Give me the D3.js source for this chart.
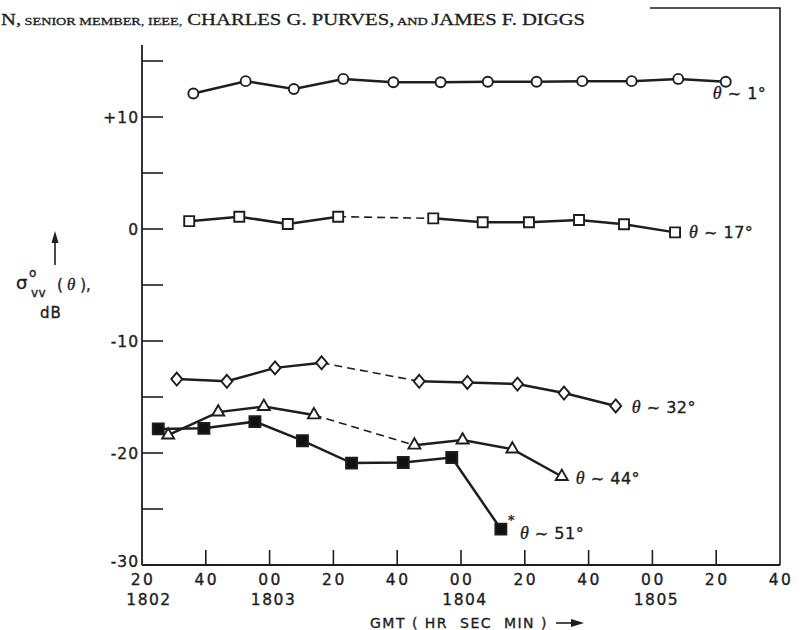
<!DOCTYPE html>
<html>
<head>
<meta charset="utf-8">
<script src="https://cdn.jsdelivr.net/npm/d3@7"></script>
<style>
  body { margin: 0; background: #fff; }
  svg { display: block; }
</style>
</head>
<body>
<svg id="chart" width="800" height="630"></svg>
<script>
// time = seconds after 18:02:00 GMT, values = sigma_vv in dB
const t01 = [36.1, 52.5, 67.6, 83.1, 98.8, 113.6, 128.4, 143.7, 158.0, 173.5, 188.1, 203.0];
const db01 = [12.1, 13.2, 12.5, 13.4, 13.1, 13.1, 13.15, 13.15, 13.2, 13.2, 13.4, 13.15];

const t17 = [34.8, 50.5, 65.7, 81.5, 111.3, 126.8, 141.3, 157.0, 171.1, 187.1];
const db17 = [0.7, 1.1, 0.45, 1.1, 0.95, 0.6, 0.6, 0.8, 0.42, -0.3];

const t32 = [30.9, 46.6, 61.7, 76.3, 106.9, 122.0, 137.7, 152.3, 168.5];
const db32 = [-13.4, -13.6, -12.4, -11.95, -13.6, -13.7, -13.85, -14.65, -15.8];

const t44 = [28.2, 43.9, 58.2, 73.9, 105.4, 120.5, 136.1, 151.6];
const db44 = [-18.4, -16.35, -15.85, -16.6, -19.3, -18.85, -19.65, -22.1];

const t51 = [25.1, 39.4, 55.4, 70.3, 85.7, 101.9, 117.1, 132.5];
const db51 = [-17.85, -17.8, -17.2, -18.9, -20.9, -20.85, -20.4, -26.8];

const xTicks = [20, 40, 60, 80, 100, 120, 140, 160, 180, 200, 220];
const xTickLabels = ["20", "40", "00", "20", "40", "00", "20", "40", "00", "20", "40"];
const minuteAt = [20, 60, 120, 180];
const minuteLabels = ["1802", "1803", "1804", "1805"];
const yTicks = [-30, -25, -20, -15, -10, -5, 0, 5, 10, 15];
const yLabelTicks = [10, 0, -10, -20, -30];
const yTickLabels = ["+10", "0", "-10", "-20", "-30"];

const ink = "#1e1e1e";
const sans = "'DejaVu Sans', sans-serif";
const serif = "'Liberation Serif', serif";

const svg = d3.select("#chart");

const x = d3.scaleLinear().domain([20, 220]).range([142, 780]);
const y = d3.scaleLinear().domain([-30, 15]).range([565, 61]);

// header line of the paper page
const title = svg.append("text")
  .attr("x", 1).attr("y", 25)
  .attr("font-family", serif)
  .attr("fill", ink).attr("stroke", ink).attr("stroke-width", 0.3)
  .attr("textLength", 584)
  .attr("lengthAdjust", "spacingAndGlyphs");
[["N,", 16], [" SENIOR MEMBER, IEEE,", 11], [" CHARLES G. PURVES,", 16], [" AND ", 11], ["JAMES F. DIGGS", 16]]
  .forEach(([s, fs]) => title.append("tspan").attr("font-size", fs).text(s));

// box corner at top right
svg.append("path")
  .attr("d", `M650,8H${x(220)}V${y(-30)}`)
  .attr("fill", "none").attr("stroke", ink).attr("stroke-width", 1.6);

// axes lines
svg.append("line")
  .attr("x1", x(20)).attr("x2", x(220)).attr("y1", y(-30)).attr("y2", y(-30))
  .attr("stroke", ink).attr("stroke-width", 1.8);
svg.append("line")
  .attr("x1", x(20)).attr("x2", x(20)).attr("y1", y(-30)).attr("y2", 45)
  .attr("stroke", ink).attr("stroke-width", 1.8);

const lbl = sel => sel.attr("font-family", sans).attr("fill", ink)
  .attr("stroke", ink).attr("stroke-width", 0.35);

// y ticks point inwards
svg.selectAll(".ytick").data(yTicks.filter(d => d > -30)).enter().append("line")
  .attr("x1", x(20)).attr("x2", x(20) + 21)
  .attr("y1", d => y(d)).attr("y2", d => y(d))
  .attr("stroke", ink).attr("stroke-width", 1.6);
svg.selectAll(".ylab").data(yLabelTicks).enter().append("text")
  .attr("x", x(20) - 3).attr("y", d => y(d) + (d === -30 ? 2 : 6))
  .attr("text-anchor", "end")
  .attr("font-size", 15.5).attr("letter-spacing", 1)
  .call(lbl)
  .text((d, i) => yTickLabels[i]);

// x ticks point up
svg.selectAll(".xtick").data(xTicks.slice(1, -1)).enter().append("line")
  .attr("x1", d => x(d)).attr("x2", d => x(d))
  .attr("y1", y(-30)).attr("y2", y(-30) - 15)
  .attr("stroke", ink).attr("stroke-width", 1.6);
svg.selectAll(".xlab").data(xTicks).enter().append("text")
  .attr("x", d => x(d) + 1).attr("y", 585)
  .attr("text-anchor", "middle")
  .attr("font-size", 15.5).attr("letter-spacing", 2.5)
  .call(lbl)
  .text((d, i) => xTickLabels[i]);
svg.selectAll(".minlab").data(minuteAt).enter().append("text")
  .attr("x", (d, i) => x(d) + (i === 0 ? 7 : 4)).attr("y", 605)
  .attr("text-anchor", "middle")
  .attr("font-size", 15.5).attr("letter-spacing", 1.5)
  .call(lbl)
  .text((d, i) => minuteLabels[i]);

svg.append("text")
  .attr("x", 370).attr("y", 628)
  .attr("font-size", 14).attr("letter-spacing", 1.5)
  .call(lbl)
  .text("GMT ( HR\u00a0\u00a0SEC\u00a0\u00a0MIN )");
svg.append("line")
  .attr("x1", 556).attr("x2", 576).attr("y1", 623).attr("y2", 623)
  .attr("stroke", ink).attr("stroke-width", 1.6);
svg.append("path").attr("d", "M584,623L571,619L571,627Z").attr("fill", ink);

// y axis title with arrow
svg.append("line")
  .attr("x1", 55).attr("x2", 55).attr("y1", 265).attr("y2", 240)
  .attr("stroke", ink).attr("stroke-width", 1.6);
svg.append("path").attr("d", "M55,231L51.5,243L58.5,243Z").attr("fill", ink);
const yt = svg.append("g").call(lbl);
yt.append("text").attr("x", 16).attr("y", 289).attr("font-size", 18).text("σ");
yt.append("text").attr("x", 29).attr("y", 277).attr("font-size", 12).text("o");
yt.append("text").attr("x", 31).attr("y", 297).attr("font-size", 12).attr("letter-spacing", 0.5).text("vv");
const yp = yt.append("text").attr("x", 57).attr("y", 290).attr("font-size", 15);
yp.append("tspan").text("(");
yp.append("tspan").attr("font-family", serif).attr("font-style", "italic").attr("font-size", 17).text(" θ");
yp.append("tspan").text(" ),");
yt.append("text").attr("x", 40).attr("y", 318).attr("font-size", 15).attr("letter-spacing", 1).text("dB");

// series
const line = d3.line().x(d => x(d[0])).y(d => y(d[1]));
const series = [
  {t: t01, v: db01, mark: "circle", label: "1°", gap: -1, dx: -13, dy: 17},
  {t: t17, v: db17, mark: "square", label: "17°", gap: 3, dx: 14, dy: 6},
  {t: t32, v: db32, mark: "diamond", label: "32°", gap: 3, dx: 16, dy: 7},
  {t: t44, v: db44, mark: "triangle", label: "44°", gap: 3, dx: 14, dy: 7},
  {t: t51, v: db51, mark: "filled", label: "51°", gap: -1, dx: 19, dy: 10}
];

const shapes = {
  circle: "M5,0A5,5,0,1,1,-5,0A5,5,0,1,1,5,0Z",
  square: "M-5,-5H5V5H-5Z",
  filled: "M-5.5,-5.5H5.5V5.5H-5.5Z",
  diamond: "M0,-6.5L5.5,0L0,6.5L-5.5,0Z",
  triangle: d3.symbol(d3.symbolTriangle, 62)()
};

series.forEach(s => {
  const pts = s.t.map((t, i) => [t, s.v[i]]);
  const g = svg.append("g");
  const parts = s.gap < 0 ? [[pts, false]] :
    [[pts.slice(0, s.gap + 1), false], [pts.slice(s.gap, s.gap + 2), true], [pts.slice(s.gap + 1), false]];
  parts.forEach(([p, dashed]) => {
    g.append("path").attr("d", line(p))
      .attr("fill", "none").attr("stroke", ink)
      .attr("stroke-width", dashed ? 1.6 : 2.5)
      .attr("stroke-dasharray", dashed ? "8,5" : null);
  });
  g.selectAll(".pt").data(pts).enter().append("path")
    .attr("transform", d => `translate(${x(d[0])},${y(d[1])})`)
    .attr("d", shapes[s.mark])
    .attr("fill", s.mark === "filled" ? "#111" : "#fff")
    .attr("stroke", ink).attr("stroke-width", 1.9);

  const last = pts[pts.length - 1];
  const lab = svg.append("text")
    .attr("x", x(last[0]) + s.dx).attr("y", y(last[1]) + s.dy)
    .attr("font-size", 16).attr("letter-spacing", 0.5)
    .call(lbl);
  lab.append("tspan").attr("font-family", serif).attr("font-style", "italic").attr("font-size", 18).text("θ");
  lab.append("tspan").text(" ~ " + s.label);
  if (s.mark === "filled") {
    svg.append("text")
      .attr("x", x(last[0]) + 7).attr("y", y(last[1]) - 5)
      .attr("font-size", 13).call(lbl).text("*");
  }
});
</script>
</body>
</html>
